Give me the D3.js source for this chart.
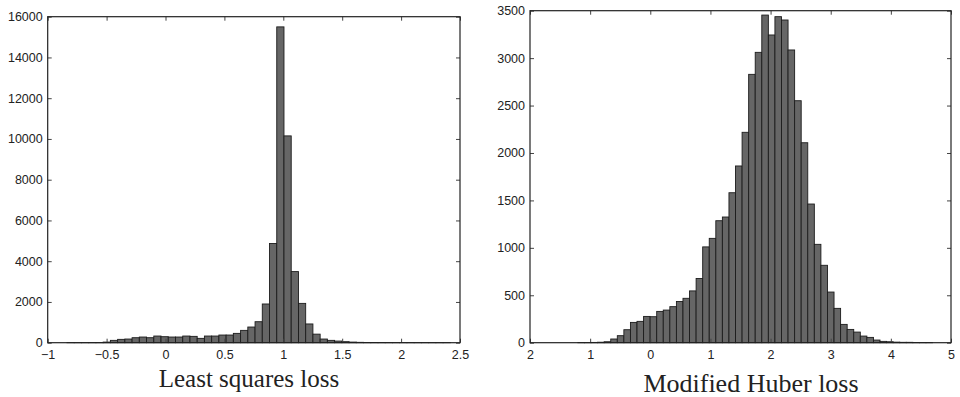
<!DOCTYPE html>
<html>
<head>
<meta charset="utf-8">
<script src="https://cdn.jsdelivr.net/npm/d3@7"></script>
<style>
  html, body { margin: 0; padding: 0; background: #fff; }
  svg { display: block; }
  .tick text { font-family: "Liberation Sans", Arial, sans-serif; font-size: 12.5px; fill: #222; }
  .tick line { stroke: #444; }
  .title { font-family: "Liberation Serif", "Times New Roman", serif; fill: #222; }
</style>
</head>
<body>
<svg id="chart" width="960" height="397"></svg>
<script>
// least squares loss histogram
var lsFirstEdge = -0.959;
var lsBinWidth = 0.0614;
var lsCounts = [
  0, 0, 1, 1, 2, 3, 5,
  30, 115, 164, 180, 245, 278, 245, 327, 295, 278,
  278, 327, 311, 213, 327, 327, 376, 376, 458, 605,
  769, 1030, 1900, 4870, 15500, 10150, 3490, 1930, 920, 420,
  180, 115, 80, 50, 30, 18, 12, 9, 7, 5,
  4, 3, 3, 2, 2, 1, 1, 1, 0
];
var lsXTicks = [-1, -0.5, 0, 0.5, 1, 1.5, 2, 2.5];
var lsXLabels = ["\u22121", "\u22120.5", "0", "0.5", "1", "1.5", "2", "2.5"];
var lsYTicks = [0, 2000, 4000, 6000, 8000, 10000, 12000, 14000, 16000];

// modified huber loss histogram
var mhFirstEdge = -1.968;
var mhBinWidth = 0.1092;
var mhCounts = [
  0, 0, 0, 0, 0, 0, 0, 1, 1,
  3, 5, 10, 39, 74, 137, 214, 225, 277, 274,
  330, 344, 380, 434, 468, 546, 677, 1010, 1100, 1286,
  1325, 1581, 1863, 2218, 2829, 3061, 3454, 3244, 3437, 3402,
  3086, 2551, 2108, 1462, 1037, 816, 534, 362, 193, 140,
  112, 70, 56, 28, 14, 10, 6, 4, 4, 2,
  1, 1, 0, 0
];
var mhXTicks = [-2, -1, 0, 1, 2, 3, 4, 5];
var mhXLabels = ["2", "1", "0", "1", "2", "3", "4", "5"]; // as printed in the figure
var mhYTicks = [0, 500, 1000, 1500, 2000, 2500, 3000, 3500];

var svg = d3.select("#chart");

function drawHist(o) {
  var g = svg.append("g");
  var x = d3.scaleLinear().domain(o.xDomain).range([o.left, o.right]);
  var y = d3.scaleLinear().domain(o.yDomain).range([o.bottom, o.top]);

  var bins = o.counts.map(function (c, i) {
    return { x0: o.firstEdge + i * o.binWidth, x1: o.firstEdge + (i + 1) * o.binWidth, n: c };
  });

  g.append("g")
    .selectAll("rect")
    .data(bins)
    .enter()
    .append("rect")
    .attr("x", function (d) { return x(d.x0); })
    .attr("width", function (d) { return x(d.x1) - x(d.x0); })
    .attr("y", function (d) { return y(d.n); })
    .attr("height", function (d) { return y(0) - y(d.n); })
    .attr("fill", "#666")
    .attr("stroke", "#1c1c1c")
    .attr("stroke-width", 0.9);

  var fmtX = function (d, i) { return o.xLabels[i]; };

  g.append("g")
    .attr("transform", "translate(0," + o.bottom + ")")
    .call(d3.axisBottom(x).tickValues(o.xTicks).tickFormat(fmtX).tickSizeInner(-4).tickSizeOuter(0).tickPadding(7))
    .call(function (s) { s.select(".domain").remove(); });

  g.append("g")
    .attr("transform", "translate(0," + o.top + ")")
    .call(d3.axisTop(x).tickValues(o.xTicks).tickFormat("").tickSizeInner(-4).tickSizeOuter(0))
    .call(function (s) { s.select(".domain").remove(); });

  g.append("g")
    .attr("transform", "translate(" + o.left + ",0)")
    .call(d3.axisLeft(y).tickValues(o.yTicks).tickFormat(d3.format("d")).tickSizeInner(-4).tickSizeOuter(0).tickPadding(5))
    .call(function (s) { s.select(".domain").remove(); });

  g.append("g")
    .attr("transform", "translate(" + o.right + ",0)")
    .call(d3.axisRight(y).tickValues(o.yTicks).tickFormat("").tickSizeInner(-4).tickSizeOuter(0))
    .call(function (s) { s.select(".domain").remove(); });

  g.selectAll(".tick text").attr("font-family", null).attr("font-size", null);

  g.append("rect")
    .attr("x", o.left)
    .attr("y", o.top)
    .attr("width", o.right - o.left)
    .attr("height", o.bottom - o.top)
    .attr("fill", "none")
    .attr("stroke", "#222")
    .attr("stroke-width", 1.2);

  g.append("text")
    .attr("class", "title")
    .attr("x", o.titleX)
    .attr("y", o.titleY)
    .attr("text-anchor", "middle")
    .style("font-size", o.titleSize + "px")
    .text(o.title);
}

drawHist({
  left: 47.7, right: 460, top: 16.7, bottom: 342.7,
  xDomain: [-1, 2.5], yDomain: [0, 16000],
  firstEdge: lsFirstEdge, binWidth: lsBinWidth, counts: lsCounts,
  xTicks: lsXTicks, xLabels: lsXLabels, yTicks: lsYTicks,
  title: "Least squares loss", titleX: 249, titleY: 387, titleSize: 25
});

drawHist({
  left: 530, right: 951, top: 10.7, bottom: 342.7,
  xDomain: [-2, 5], yDomain: [0, 3500],
  firstEdge: mhFirstEdge, binWidth: mhBinWidth, counts: mhCounts,
  xTicks: mhXTicks, xLabels: mhXLabels, yTicks: mhYTicks,
  title: "Modified Huber loss", titleX: 751, titleY: 392, titleSize: 26
});
</script>
</body>
</html>
